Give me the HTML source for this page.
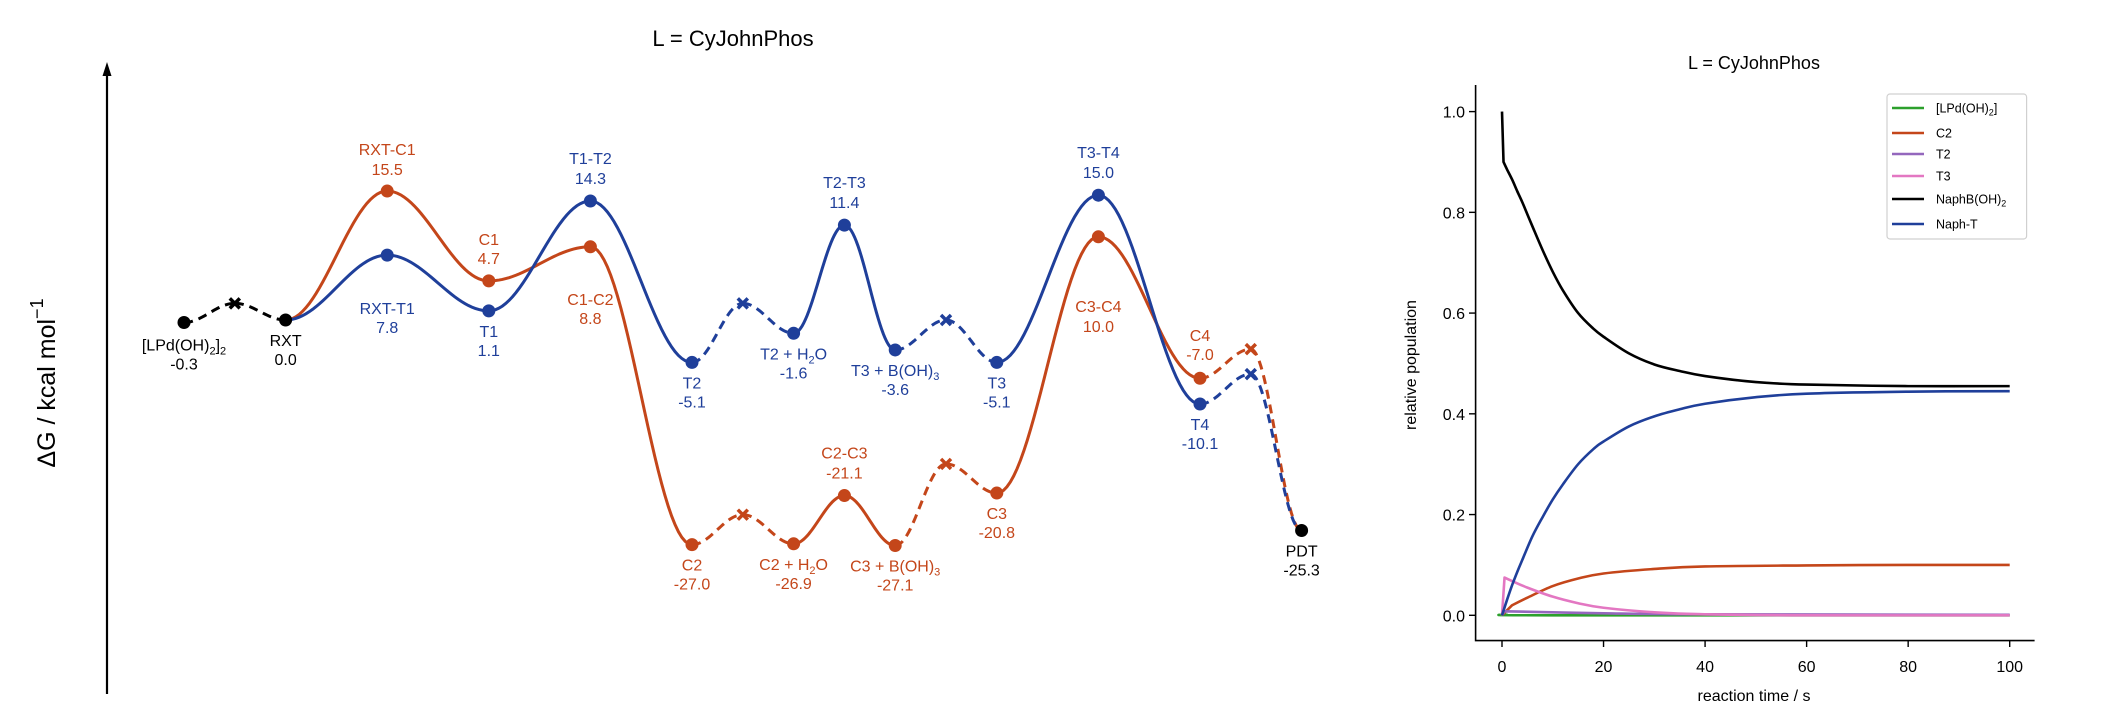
<!DOCTYPE html>
<html><head><meta charset="utf-8"><style>
html,body{margin:0;padding:0;background:#fff;}
svg{display:block;font-family:"Liberation Sans",Arial,sans-serif;}
</style></head><body>
<svg id="svg" width="2106" height="720" viewBox="0 0 2106 720" xmlns="http://www.w3.org/2000/svg">
<rect width="2106" height="720" fill="#fff"/>
<text x="733" y="46" font-size="22" text-anchor="middle">L = CyJohnPhos</text>
<line x1="107" y1="694" x2="107" y2="72" stroke="#000" stroke-width="2.2"/>
<polygon points="107,62 102.5,76 111.5,76" fill="#000"/>
<text transform="translate(55,383) rotate(-90)" font-size="25" text-anchor="middle">ΔG / kcal mol<tspan dy="-12" font-size="18">−1</tspan></text>
<g id="ed"></g>
<text x="1754" y="69" font-size="18" text-anchor="middle">L = CyJohnPhos</text>
<g id="kin"></g>
</svg>
<script>
// ---------- energy diagram data ----------
const orangeStates = [1, 2, 3, 4, 5, 5.5, 6, 6.5, 7, 7.5, 8, 9, 10, 10.5, 11];
const orangeEnergy = [0.0, 15.5, 4.7, 8.8, -27.0, -23.4, -26.9, -21.1, -27.1, -17.3, -20.8, 10.0, -7.0, -3.5, -25.3];
const orangeDashed = [0, 0, 0, 0, 1, 1, 0, 0, 1, 1, 0, 0, 1, 1];
const blueStates = [1, 2, 3, 4, 5, 5.5, 6, 6.5, 7, 7.5, 8, 9, 10, 10.5, 11];
const blueEnergy = [0.0, 7.8, 1.1, 14.3, -5.1, 2.0, -1.6, 11.4, -3.6, 0.0, -5.1, 15.0, -10.1, -6.5, -25.3];
const blueDashed = [0, 0, 0, 0, 1, 1, 0, 0, 1, 1, 0, 0, 1, 1];
const blackStates = [0, 0.5, 1];
const blackEnergy = [-0.3, 2.0, 0.0];
const crossStates = [0.5, 5.5, 7.5, 10.5];

const NS = "http://www.w3.org/2000/svg";
function mk(tag, attrs, parent){const e=document.createElementNS(NS,tag);for(const k in attrs)e.setAttribute(k,attrs[k]);parent.appendChild(e);return e;}
function setSubText(el, str, subSize, dy){
  const parts=str.split(/(<sub>.*?<\/sub>)/);
  parts.forEach(p=>{
    if(!p) return;
    const m=p.match(/^<sub>(.*)<\/sub>$/);
    const ts=document.createElementNS(NS,'tspan');
    if(m){ts.setAttribute('dy',dy);ts.setAttribute('font-size',subSize);ts.textContent=m[1];el.appendChild(ts);
      const back=document.createElementNS(NS,'tspan');back.setAttribute('dy',-dy);back.textContent='\u200b';el.appendChild(back);}
    else{ts.textContent=p;el.appendChild(ts);}
  });
}
const ORANGE="#c4461a", BLUE="#1f3f9a";
const ex = s => 184 + s*101.6;
const ey = g => 320 - g*8.32;
const ed = document.getElementById('ed');

function segPath(s0,g0,s1,g1){
  let d="";
  for(let i=0;i<=30;i++){const t=i/30;const w=(1-Math.cos(Math.PI*t))/2;
    const x=ex(s0+(s1-s0)*t), y=ey(g0+(g1-g0)*w);
    d+=(i?"L":"M")+x.toFixed(2)+","+y.toFixed(2);}
  return d;
}
function drawProfile(states, energy, dashed, color, name){
  for(let i=0;i<states.length-1;i++){
    const p=mk('path',{d:segPath(states[i],energy[i],states[i+1],energy[i+1]),fill:'none',stroke:color,'stroke-width':3,'stroke-dasharray':dashed[i]?'9 6':'none'},ed);
    
    
  }
  for(let i=0;i<states.length;i++){
    const x=ex(states[i]), y=ey(energy[i]);
    if(crossStates.includes(states[i])){
      const c=mk('path',{d:`M${x-5},${y-5}L${x+5},${y+5}M${x+5},${y-5}L${x-5},${y+5}`,stroke:color,'stroke-width':3.5},ed);
      
      
    } else if(states[i]!==1 && states[i]!==11 && states[i]!==0){
      const c=mk('circle',{cx:x,cy:y,r:6.5,fill:color},ed);
      
      
    }
  }
}
drawProfile(orangeStates, orangeEnergy, orangeDashed, ORANGE, 'c-pathway');
drawProfile(blueStates, blueEnergy, blueDashed, BLUE, 't-pathway');
drawProfile(blackStates, blackEnergy, [1,1], '#000', 'pre-equilibrium');
[[0,-0.3],[1,0],[11,-25.3]].forEach(p=>{
  const c=mk('circle',{cx:ex(p[0]),cy:ey(p[1]),r:6.5,fill:'#000'},ed);
  
  
});

const labels=[
 [0,-0.3,'[LPd(OH)<sub>2</sub>]<sub>2</sub>','-0.3','#000',22,41],
 [1,0,'RXT','0.0','#000',20,39],
 [2,15.5,'RXT-C1','15.5',ORANGE,-42,-22],
 [2,7.8,'RXT-T1','7.8',BLUE,53,72],
 [3,4.7,'C1','4.7',ORANGE,-42,-23],
 [3,1.1,'T1','1.1',BLUE,20,39],
 [4,14.3,'T1-T2','14.3',BLUE,-43,-23],
 [4,8.8,'C1-C2','8.8',ORANGE,52,71],
 [5,-5.1,'T2','-5.1',BLUE,20,39],
 [6,-1.6,'T2 + H<sub>2</sub>O','-1.6',BLUE,20,39],
 [6.5,11.4,'T2-T3','11.4',BLUE,-43,-23],
 [7,-3.6,'T3 + B(OH)<sub>3</sub>','-3.6',BLUE,20,39],
 [8,-5.1,'T3','-5.1',BLUE,20,39],
 [5,-27.0,'C2','-27.0',ORANGE,20,39],
 [6,-26.9,'C2 + H<sub>2</sub>O','-26.9',ORANGE,20,39],
 [6.5,-21.1,'C2-C3','-21.1',ORANGE,-43,-23],
 [7,-27.1,'C3 + B(OH)<sub>3</sub>','-27.1',ORANGE,20,39],
 [8,-20.8,'C3','-20.8',ORANGE,20,39],
 [9,15.0,'T3-T4','15.0',BLUE,-43,-23],
 [9,10.0,'C3-C4','10.0',ORANGE,69,89],
 [10,-7.0,'C4','-7.0',ORANGE,-43,-24],
 [10,-10.1,'T4','-10.1',BLUE,20,39],
 [11,-25.3,'PDT','-25.3','#000',20,39]
];
labels.forEach(l=>{
  const x=ex(l[0]), y=ey(l[1]);
  const t1=mk('text',{x:x,y:y+l[5]+6,'font-size':16,'text-anchor':'middle',fill:l[4]},ed);
  setSubText(t1,l[2],11,4);
  
  
  const t2=mk('text',{x:x,y:y+l[6]+6,'font-size':16,'text-anchor':'middle',fill:l[4]},ed);
  t2.textContent=l[3];
  
  
});

// ---------- kinetics data ----------
const tNaphB = [0, 0.3, 1, 2, 3, 4, 5, 6, 8, 10, 12, 15, 18, 20, 25, 30, 35, 40, 50, 60, 80, 100];
const vNaphB = [1.0, 0.90, 0.885, 0.865, 0.842, 0.82, 0.796, 0.772, 0.725, 0.682, 0.645, 0.60, 0.569, 0.553, 0.52, 0.498, 0.485, 0.475, 0.463, 0.458, 0.455, 0.455];
const tNaphT = [0, 1, 2, 3, 4, 6, 8, 10, 12, 15, 18, 20, 25, 30, 35, 40, 50, 60, 80, 100];
const vNaphT = [0, 0.031, 0.06, 0.086, 0.11, 0.157, 0.195, 0.23, 0.26, 0.30, 0.33, 0.345, 0.375, 0.395, 0.409, 0.42, 0.433, 0.44, 0.444, 0.445];
const tC2 = [0, 2, 5, 10, 15, 20, 30, 40, 60, 80, 100];
const vC2 = [0, 0.02, 0.035, 0.058, 0.073, 0.083, 0.092, 0.097, 0.099, 0.1, 0.1];
const tT3 = [0, 0.5, 2, 5, 10, 15, 20, 30, 40, 60, 100];
const vT3 = [0, 0.075, 0.068, 0.055, 0.037, 0.024, 0.015, 0.006, 0.002, 0.0, 0.0];
const tT2 = [0, 0.5, 20, 40, 100];
const vT2 = [0, 0.008, 0.004, 0.002, 0.001];
const tLPd = [0, 1, 10, 100];
const vLPd = [0.002, 0.001, 0.0, 0.0];
const xTicks = [0, 20, 40, 60, 80, 100];
const yTicks = [0.0, 0.2, 0.4, 0.6, 0.8, 1.0];
const legendLabels = ['[LPd(OH)<sub>2</sub>]', 'C2', 'T2', 'T3', 'NaphB(OH)<sub>2</sub>', 'Naph-T'];

const kin=document.getElementById('kin');
const kx = t => 1502 + t*5.077;
const ky = v => 615.3 - v*503.7;
const axL = mk('path',{d:'M1475.6,85V640.6H2034.6',fill:'none',stroke:'#000','stroke-width':1.6},kin);


yTicks.forEach(v=>{
  const y=ky(v);
  const tk=mk('line',{x1:1469,x2:1475.6,y1:y,y2:y,stroke:'#000','stroke-width':1.4},kin);
  
  
  const tl=mk('text',{x:1465,y:y+6,'font-size':16,'text-anchor':'end'},kin);
  tl.textContent=v.toFixed(1);
  
  
});
xTicks.forEach(t=>{
  const x=kx(t);
  const tk=mk('line',{x1:x,x2:x,y1:640.6,y2:647,stroke:'#000','stroke-width':1.4},kin);
  
  
  const tl=mk('text',{x:x,y:672,'font-size':16,'text-anchor':'middle'},kin);
  tl.textContent=t;
  
  
});
const xl=mk('text',{x:1754,y:701,'font-size':16,'text-anchor':'middle'},kin);
xl.textContent='reaction time / s';


const yl=mk('text',{transform:'translate(1416,365) rotate(-90)','font-size':16,'text-anchor':'middle'},kin);
yl.textContent='relative population';



function smoothPath(ts,vs){
  const P=ts.map((t,i)=>[kx(t),ky(vs[i])]);
  let d=`M${P[0][0]},${P[0][1]}`;
  for(let i=0;i<P.length-1;i++){
    const p0=P[Math.max(i-1,0)],p1=P[i],p2=P[i+1],p3=P[Math.min(i+2,P.length-1)];
    let c1=[p1[0]+(p2[0]-p0[0])/6,p1[1]+(p2[1]-p0[1])/6];
    let c2=[p2[0]-(p3[0]-p1[0])/6,p2[1]-(p3[1]-p1[1])/6];
    if(i===0){c1=[p1[0],p1[1]];c2=[p2[0],p2[1]];}
    if(i===1){c1=[p1[0],p1[1]];}
    d+=`C${c1[0].toFixed(2)},${c1[1].toFixed(2)} ${c2[0].toFixed(2)},${c2[1].toFixed(2)} ${p2[0].toFixed(2)},${p2[1].toFixed(2)}`;
  }
  return d;
}
const series=[[tLPd,vLPd,'#2ca02c','lpd-line'],[tC2,vC2,'#c4461a','c2-line'],[tT2,vT2,'#9467bd','t2-line'],[tT3,vT3,'#e377c2','t3-line'],[tNaphB,vNaphB,'#000','naphb-line'],[tNaphT,vNaphT,'#1f3f9a','napht-line']];
series.forEach(s=>{
  const p=mk('path',{d:smoothPath(s[0],s[1]),fill:'none',stroke:s[2],'stroke-width':2.6,'stroke-linejoin':'round'},kin);
  
  
});
const lg=mk('rect',{x:1887,y:94,width:139.6,height:145,rx:3,fill:'#fff','fill-opacity':0.85,stroke:'#d0d0d0','stroke-width':1.2},kin);


const legY=[108,133,154,176,199,224];
legendLabels.forEach((lab,i)=>{
  const ln=mk('line',{x1:1892,x2:1924,y1:legY[i],y2:legY[i],stroke:series[i][2],'stroke-width':2.6},kin);
  
  
  const tx=mk('text',{x:1936,y:legY[i]+4.5,'font-size':12.5},kin);
  setSubText(tx,lab,9,3);
  
  
});
</script>
</body></html>
